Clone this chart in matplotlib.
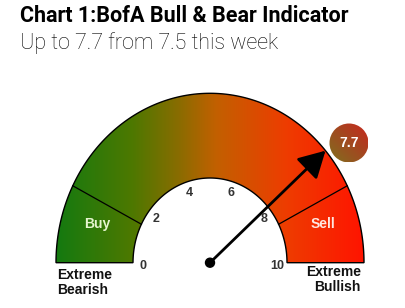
import numpy as np
import matplotlib
matplotlib.use("Agg")
import matplotlib.pyplot as plt
from matplotlib.path import Path
from matplotlib.patches import PathPatch, Circle
from matplotlib.colors import LinearSegmentedColormap

# ---- data ----
title = "Chart 1:BofA Bull & Bear Indicator"
subtitle = "Up to 7.7 from 7.5 this week"
gauge_min, gauge_max = 0, 10
tick_values = [0, 2, 4, 6, 8, 10]
zone_bounds = [1.5, 8.5]
zone_labels = ["Buy", "Sell"]
end_labels = ["Extreme\nBearish", "Extreme\nBullish"]
indicator_value = 7.7

# ---- layout (pixel coordinates) ----
W, H = 406, 308
cx, cy = 210, 262.7
R_out, R_in = 154, 77
sy = 1.1  # vertical stretch of the reference


def ang(v):
    return np.pi * (1 - (v - gauge_min) / (gauge_max - gauge_min))


def pt(v, r):
    a = ang(v)
    return cx + r * np.cos(a), cy - r * sy * np.sin(a)


fig = plt.figure(figsize=(W / 100, H / 100), dpi=100)
ax = fig.add_axes([0, 0, 1, 1])
ax.set_xlim(0, W)
ax.set_ylim(H, 0)
ax.axis("off")

# ring path
t = np.linspace(gauge_min, gauge_max, 200)
outer = np.array([pt(v, R_out) for v in t])
inner = np.array([pt(v, R_in) for v in t[::-1]])
verts = np.vstack([outer, inner, outer[:1]])
codes = [Path.MOVETO] + [Path.LINETO] * (len(verts) - 2) + [Path.CLOSEPOLY]
ring = Path(verts, codes)

cmap = LinearSegmentedColormap.from_list(
    "g", [(0, "#147a10"), (0.25, "#4e7800"), (0.4, "#8a6c00"), (0.52, "#c26000"),
          (0.75, "#ee3c00"), (1, "#ff1400")])
grad = np.linspace(0, 1, 256)[None, :]
im = ax.imshow(grad, cmap=cmap, aspect="auto",
               extent=[cx - R_out, cx + R_out, cy, cy - R_out * sy], zorder=1)
clip = PathPatch(ring, transform=ax.transData, facecolor="none", edgecolor="none")
ax.add_patch(clip)
im.set_clip_path(clip)
ax.add_patch(PathPatch(ring, facecolor="none", edgecolor="black", lw=1.0, zorder=3))

# zone dividers
for b in zone_bounds:
    x0, y0 = pt(b, R_in)
    x1, y1 = pt(b, R_out)
    ax.plot([x0, x1], [y0, y1], color="black", lw=0.9, zorder=3)

# zone labels
zone_mid = [(gauge_min + zone_bounds[0]) / 2, (zone_bounds[1] + gauge_max) / 2]
zone_cols = ["#e6f5cf", "#ffe6e0"]
for lab, zm, c in zip(zone_labels, zone_mid, zone_cols):
    x = cx + (-1 if zm < 5 else 1) * (R_in + R_out) / 2 * 0.98
    ax.text(x, 224, lab, ha="center", va="center", color=c,
            fontsize=10, fontweight="bold", family="Liberation Sans", zorder=4)

# tick labels
for v in tick_values:
    x, y = pt(v, 67)
    if v in (gauge_min, gauge_max):
        y = cy + 3
    ax.text(x, y, str(v), ha="center", va="center", color="#333333",
            fontsize=9, fontweight="bold", family="Liberation Sans", zorder=4)

# end labels
ax.text(57, 268, end_labels[0], ha="left", va="top", fontsize=10,
        fontweight="bold", family="Liberation Sans", color="#111111",
        linespacing=1.1)
ax.text(361, 265, end_labels[1], ha="right", va="top", fontsize=10,
        fontweight="bold", family="Liberation Sans", color="#111111",
        linespacing=1.1, multialignment="right")

# needle
tx, ty = pt(indicator_value, R_out * 1.0)
ax.annotate("", xy=(tx, ty), xytext=(cx, cy),
            arrowprops=dict(arrowstyle="-|>,head_length=0.9,head_width=0.5",
                            lw=2.0, color="black", mutation_scale=18,
                            shrinkA=0, shrinkB=0), zorder=5)
ax.add_patch(Circle((cx, cy), 4.5, color="black", zorder=6))

# value bubble
bx, by, br = 349, 143, 19.5
bg = np.linspace(0, 1, 64)
BX, BY = np.meshgrid(bg, bg)
bub = (1 - BX + BY) / 2
bcmap = LinearSegmentedColormap.from_list("b", ["#c8281e", "#a04a20", "#80701e"])
bim = ax.imshow(bub, cmap=bcmap, extent=[bx - br, bx + br, by + br, by - br],
                aspect="auto", zorder=6)
circ = Circle((bx, by), br, transform=ax.transData, facecolor="none", edgecolor="none")
ax.add_patch(circ)
bim.set_clip_path(circ)
ax.text(bx, by, f"{indicator_value}", ha="center", va="center", color="white",
        fontsize=10, fontweight="bold", family="Liberation Sans", zorder=7)

# titles
fig.text(20 / W, 1 - 16 / H, title, ha="left", va="center", fontsize=15.5,
         fontweight="bold", family=["Roboto", "DejaVu Sans"],
         color="black")
fig.text(20 / W, 1 - 43 / H, subtitle, ha="left", va="center", fontsize=15.5,
         fontweight="light", family=["Roboto", "DejaVu Sans"], color="black")

fig.savefig("out.png", dpi=100)
